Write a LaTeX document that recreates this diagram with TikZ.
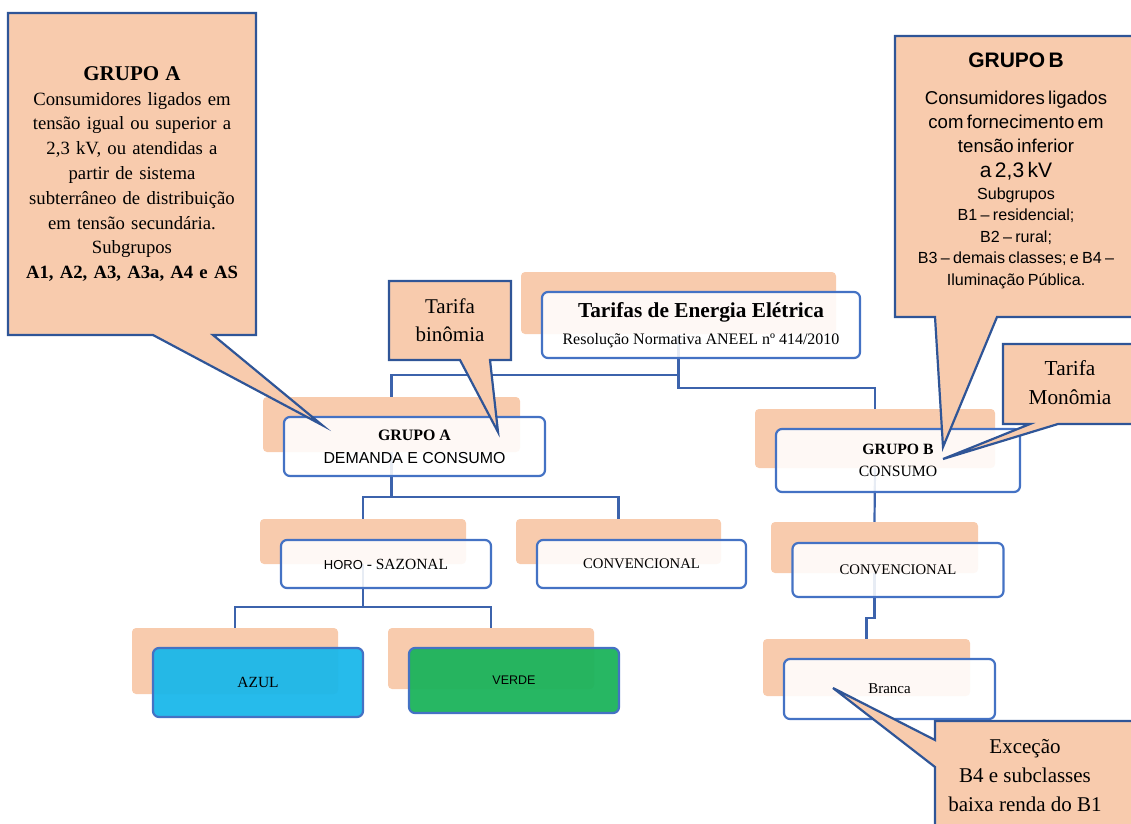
\documentclass[tikz,border=0pt]{standalone}
\usepackage{fontspec}
\setmainfont{Liberation Serif}
\setsansfont{Liberation Sans}
\usetikzlibrary{calc}
\pgfdeclarelayer{edgelayer}
\pgfsetlayers{edgelayer,main}
\definecolor{peach}{HTML}{F8CBAD}
\definecolor{calloutblue}{HTML}{2F5597}
\definecolor{boxblue}{HTML}{4472C4}
\definecolor{linkblue}{HTML}{3C63AC}
\definecolor{azul}{HTML}{1AB7EA}
\definecolor{verde}{HTML}{1BB35B}
\tikzset{
  bg/.style={fill=peach, rounded corners=4pt, inner sep=0pt},
  box/.style={draw=boxblue, line width=2.2pt, fill=white, fill opacity=0.88, text opacity=1,
    rounded corners=6pt, inner sep=0pt, align=center},
  link/.style={draw=linkblue, line width=2.2pt},
  callout/.style={fill=peach, draw=calloutblue, line width=2.2pt, line join=miter},
  note/.style={align=center, inner sep=0pt},
}
\begin{document}
\begin{tikzpicture}[x=1pt,y=-1pt]
\useasboundingbox (0,0) rectangle (1131,823);
\clip (0,0) rectangle (1131,823);
% peach backgrounds
\node[bg, minimum width=315pt, minimum height=62pt] (titleBg) at (678.5,303) {};
\node[bg, minimum width=257pt, minimum height=55pt] (grupoABg) at (391.5,424.5) {};
\node[bg, minimum width=240pt, minimum height=59pt] (grupoBBg) at (875,438.5) {};
\node[bg, minimum width=206pt, minimum height=45pt] (horoBg) at (363,541.5) {};
\node[bg, minimum width=205pt, minimum height=45pt] (convABg) at (618.5,541.5) {};
\node[bg, minimum width=207pt, minimum height=51pt] (convBBg) at (874.5,547.5) {};
\node[bg, minimum width=206pt, minimum height=66pt] (azulBg) at (235,661) {};
\node[bg, minimum width=206pt, minimum height=61pt] (verdeBg) at (491,658.5) {};
\node[bg, minimum width=207pt, minimum height=57pt] (brancaBg) at (866.5,667.5) {};
% boxes
\node[box, minimum width=318pt, minimum height=66pt, font=\fontsize{16}{27}\selectfont] (title) at ($(titleBg)+(22.5,22)$)
  {{\fontsize{21.3}{27}\selectfont\bfseries Tarifas de Energia Elétrica}\\ Resolução Normativa ANEEL nº 414/2010};
\node[box, minimum width=261pt, minimum height=59pt, font=\fontsize{15.9}{23}\selectfont] (grupoA) at ($(grupoABg)+(23,22)$)
  {\textbf{GRUPO A}\\ {\sffamily DEMANDA E CONSUMO}};
\node[box, minimum width=244pt, minimum height=63pt, font=\fontsize{15.7}{22}\selectfont] (grupoB) at ($(grupoBBg)+(23,22)$)
  {\textbf{GRUPO B}\\ CONSUMO};
\node[box, minimum width=210pt, minimum height=48pt, font=\fontsize{15.5}{18}\selectfont] (horo) at ($(horoBg)+(23,22.5)$)
  {{\sffamily\fontsize{13}{18}\selectfont HORO} - SAZONAL};
\node[box, minimum width=209pt, minimum height=48pt, font=\fontsize{14.7}{18}\selectfont] (convA) at ($(convABg)+(23,22.5)$)
  {CONVENCIONAL};
\node[box, minimum width=211pt, minimum height=54pt, font=\fontsize{14.7}{18}\selectfont] (convB) at ($(convBBg)+(23.5,22.5)$)
  {CONVENCIONAL};
\node[box, fill=azul, fill opacity=0.95, minimum width=210pt, minimum height=69pt, font=\fontsize{15.5}{18}\selectfont] (azul) at ($(azulBg)+(23,21.5)$)
  {AZUL};
\node[box, fill=verde, fill opacity=0.95, minimum width=210pt, minimum height=65pt, font=\sffamily\fontsize{12.5}{15}\selectfont] (verde) at ($(verdeBg)+(23,22)$)
  {VERDE};
\node[box, minimum width=211pt, minimum height=60pt, font=\fontsize{15}{18}\selectfont] (branca) at ($(brancaBg)+(23,21.5)$)
  {Branca};
% connectors
\begin{pgfonlayer}{edgelayer}
\draw[link] (titleBg.south) -- ++(0,41) -| (grupoABg.north);
\draw[link] (titleBg.south) -- ++(0,54) -| (grupoBBg.north);
\draw[link] (grupoABg.south) -- ++(0,45) -| (horoBg.north);
\draw[link] (grupoABg.south) -- ++(0,45) -| (convABg.north);
\draw[link] (horoBg.south) -- ++(0,43) -| (azulBg.north);
\draw[link] (horoBg.south) -- ++(0,43) -| (verdeBg.north);
\draw[link] (grupoBBg.south) -- (convBBg.north);
\draw[link] (convBBg.south) -- ++(0,45) -| (brancaBg.north);
\end{pgfonlayer}
% callouts
\coordinate (tipA) at (322,425);
\coordinate (tipBin) at (498,432);
\coordinate (tipB) at (943,447);
\coordinate (tipMon) at (943,459);
\coordinate (tipExc) at (833,688);
\draw[callout] (8,13) -- (256,13) -- (256,335) -- (213,335) -- (tipA) -- (153,335) -- (8,335) -- cycle;
\node[note, text width=240pt, font=\fontsize{18.7}{24.8}\selectfont] (calloutA) at (132,174)
  {{\fontsize{21}{24.8}\selectfont\bfseries GRUPO A}\\ Consumidores ligados em\\ tensão igual ou superior a\\
   2,3 kV, ou atendidas a\\ partir de sistema\\ subterrâneo de distribuição\\ em tensão secundária.\\
   Subgrupos\\ \textbf{A1, A2, A3, A3a, A4 e AS}};
\draw[callout] (389,281) -- (511,281) -- (511,360) -- (490,360) -- (tipBin) -- (460,360) -- (389,360) -- cycle;
\node[note, font=\fontsize{21}{28}\selectfont] (binomia) at (450,320) {Tarifa\\ binômia};
\draw[callout] (895,36) -- (1140,36) -- (1140,317) -- (997,317) -- (tipB) -- (935,317) -- (895,317) -- cycle;
\node[note, text width=236pt, font=\sffamily] (calloutB) at (1016,171)
  {{\fontsize{21}{24}\selectfont\bfseries GRUPO B\par}\vspace{13pt}
   {\fontsize{18.6}{24}\selectfont Consumidores ligados\\ com fornecimento em\\ tensão inferior\par}
   {\fontsize{21}{25}\selectfont a 2,3 kV\par}
   {\fontsize{16.1}{21.5}\selectfont Subgrupos\\ B1 – residencial;\\ B2 – rural;\\ B3 – demais classes; e B4 –\\ Iluminação Pública.\par}};
\draw[callout] (1003,344) -- (1140,344) -- (1140,424) -- (1058,424) -- (tipMon) -- (1030,424) -- (1003,424) -- cycle;
\node[note, font=\fontsize{21.3}{29}\selectfont] (monomia) at (1070,383) {Tarifa\\ Monômia};
\draw[callout] (935,721) -- (1140,721) -- (1140,830) -- (935,830) -- (935,767) -- (tipExc) -- (935,740) -- cycle;
\node[note, font=\fontsize{21}{29}\selectfont] (excecao) at (1025,776) {Exceção\\ B4 e subclasses\\ baixa renda do B1};
\end{tikzpicture}
\end{document}
